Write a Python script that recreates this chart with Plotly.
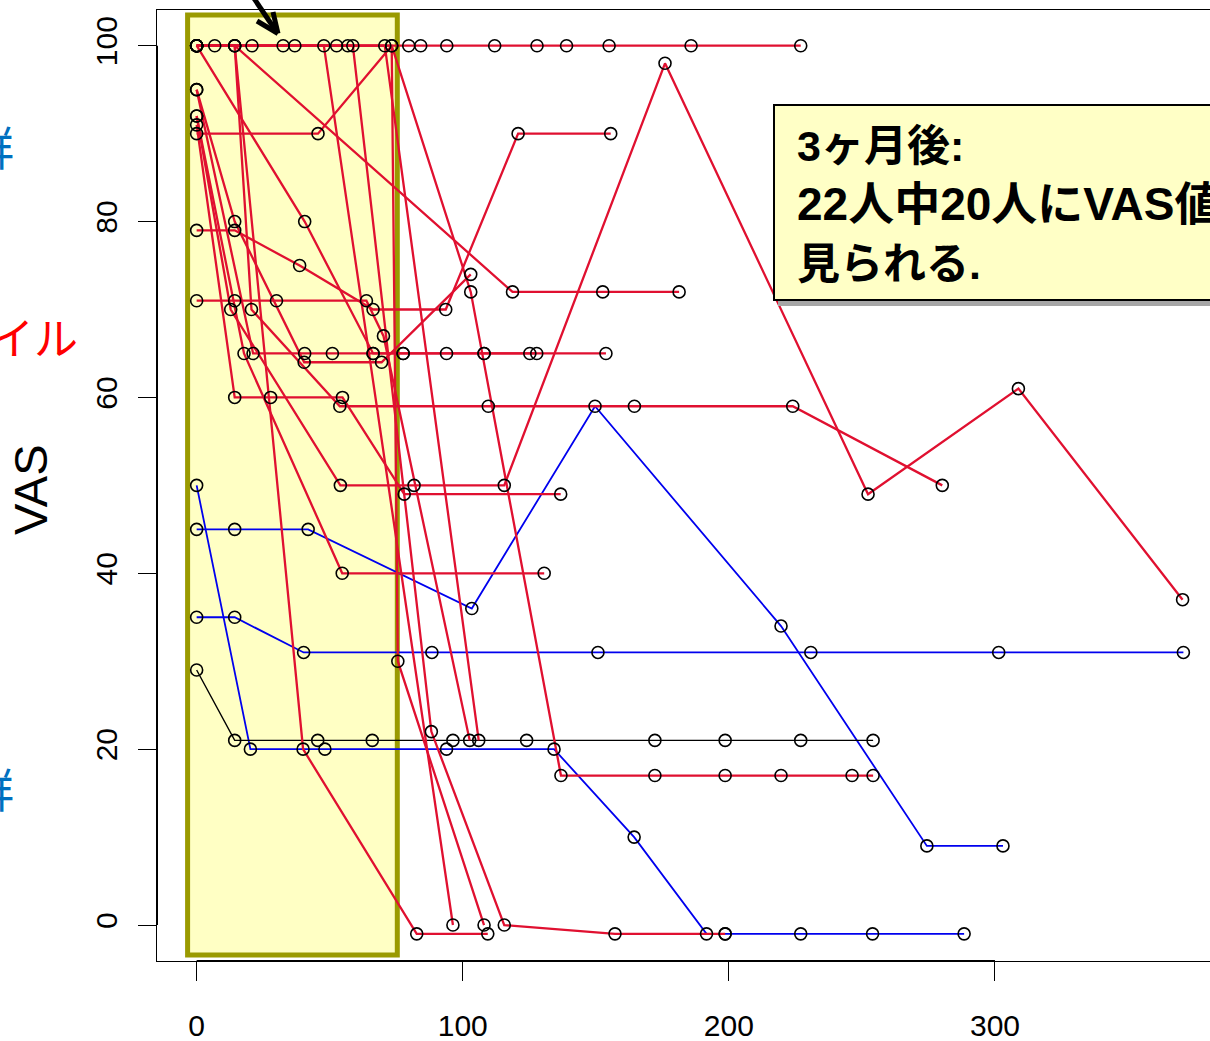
import plotly.graph_objects as go

# ---------------- data (days, VAS) ----------------
red_days = [
    [0, 6.8, 20.8, 32.5, 36.9, 52.6, 56.8, 79.7, 84.2, 94, 112, 127.9, 139, 155, 185.8, 227],
    [0, 14.3, 40, 82.7, 109.4],
    [0, 47.8, 96.3],
    [0, 45.6, 73.3, 75.6, 108],
    [0, 14.3, 118.7, 152.6, 181.3],
    [0, 14.3, 38.7, 66.3, 93.6, 120.8, 155.6],
    [0, 58.7, 88.2, 115.6, 157.2, 198.6],
    [0, 70.7, 106],
    [0, 73.3, 103, 136.9, 172.2, 198.6, 219.6, 246.3, 254.2],
    [0, 14.3, 40.4, 69.5, 103],
    [0, 14.3, 27.8, 54.8, 78, 136.8],
    [0, 14.3, 20.6, 53.8, 109.6, 164.5, 224, 280.2],
    [0, 12.8, 54, 81.7, 115.6, 176, 252.3, 308.8, 370.5],
    [0, 21.2, 40.6, 51, 66.3, 77.6, 93.9, 108, 125.2, 153.8],
    [0, 14.3, 30, 63.8, 70.2, 102.6],
    [0, 17.8, 54.7, 130.6],
    [0, 40.6, 66.3, 77.6, 108, 127.8],
]
red_vas = [
    [100] * 16,
    [100, 100, 20, -1, -1],
    [100, 100, 0],
    [90, 90, 100, 30, 0],
    [100, 100, 72, 72, 72],
    [79, 79, 75, 70, 70, 90, 90],
    [100, 100, 22, 0, -1, -1],
    [100, 100, 21],
    [100, 100, 72, 17, 17, 17, 17, 17, 17],
    [95, 80, 64, 64, 74],
    [91, 60, 60, 60, 49, 49],
    [100, 100, 70, 59, 59, 59, 59, 50],
    [92, 70, 50, 50, 50, 98, 49, 61, 37],
    [95, 65, 65, 65, 65, 65, 65, 65, 65, 65],
    [71, 71, 71, 71, 67, 21],
    [92, 65, 40, 40],
    [100, 80, 65, 65, 65, 65],
]
blue_days = [
    [0, 20.2, 48.2, 93.9, 134.3, 164.4, 191.6, 198.6, 227, 254, 288.4],
    [0, 14.3, 41.9, 103.4, 149.7, 219.6, 274.4, 303],
    [0, 14.3, 40.2, 88.4, 150.8, 230.8, 301.4, 370.8],
]
blue_vas = [
    [50, 20, 20, 20, 20, 10, -1, -1, -1, -1, -1],
    [45, 45, 45, 36, 59, 34, 9, 9],
    [35, 35, 31, 31, 31, 31, 31, 31],
]
black_days = [0, 14.3, 45.5, 66, 96.3, 124, 172.2, 198.6, 227, 254.2]
black_vas = [29, 21, 21, 21, 21, 21, 21, 21, 21, 21]

x_ticks = [0, 100, 200, 300]
y_ticks = [0, 20, 40, 60, 80, 100]
x_range = [-14.9, 380.8]
y_range = [-4.09, 104.06]
window_days = [-3.4, 75.4]      # yellow highlighted window
window_vas = [-3.4, 103.5]

# ---------------- figure ----------------
W, H = 1210, 1041
ML, MR, MT, MB = 157, 0, 10, 80
PW, PH = W - ML - MR, H - MT - MB


def px(xp):
    return (xp - ML) / PW


def py(yp):
    return (H - MB - yp) / PH


fig = go.Figure()

for d, v in zip(blue_days, blue_vas):
    fig.add_trace(go.Scatter(x=d, y=v, mode="lines",
                             line=dict(color="#0000EE", width=1.8)))
fig.add_trace(go.Scatter(x=black_days, y=black_vas, mode="lines",
                         line=dict(color="black", width=1.4)))
for d, v in zip(red_days, red_vas):
    fig.add_trace(go.Scatter(x=d, y=v, mode="lines",
                             line=dict(color="#E01030", width=2.3)))

all_x, all_y = [], []
for d, v in zip(red_days + blue_days + [black_days], red_vas + blue_vas + [black_vas]):
    all_x += d
    all_y += v
fig.add_trace(go.Scatter(x=all_x, y=all_y, mode="markers",
                         marker=dict(symbol="circle-open", size=12, color="black",
                                     line=dict(width=1.6, color="black"))))

shapes = [
    # yellow window
    dict(type="rect", xref="x", yref="y", x0=window_days[0], x1=window_days[1],
         y0=window_vas[0], y1=window_vas[1], fillcolor="#FFFFC4",
         line=dict(color="#9A9A00", width=5), layer="below"),
    # axis segments between first and last ticks
    dict(type="line", xref="x", yref="paper", x0=x_ticks[0], x1=x_ticks[-1], y0=0, y1=0,
         line=dict(color="black", width=2)),
    dict(type="line", xref="paper", yref="y", x0=0, x1=0, y0=y_ticks[0], y1=y_ticks[-1],
         line=dict(color="black", width=2)),
    # note box shadow + box
    dict(type="rect", xref="paper", yref="paper", x0=px(778), x1=px(1230), y0=py(306), y1=py(110),
         fillcolor="#A6A6A6", line=dict(width=0), layer="above"),
    dict(type="rect", xref="paper", yref="paper", x0=px(774), x1=px(1225), y0=py(300), y1=py(105),
         fillcolor="#FFFFC6", line=dict(color="black", width=2), layer="above"),
    # arrow at top
    dict(type="line", xref="paper", yref="paper", x0=px(251), y0=py(-6), x1=px(276), y1=py(31),
         line=dict(color="black", width=5)),
    dict(type="line", xref="paper", yref="paper", x0=px(257), y0=py(21), x1=px(278), y1=py(33.5),
         line=dict(color="black", width=5)),
    dict(type="line", xref="paper", yref="paper", x0=px(273), y0=py(12), x1=px(278), y1=py(33.5),
         line=dict(color="black", width=5)),
]

jp = "Liberation Sans, Noto Sans CJK JP"
ann = [
    dict(text="VAS", x=px(30), y=py(490), textangle=-90,
         font=dict(family="Liberation Sans, Arial", size=47, color="black")),
    dict(text="群", x=px(16), y=py(149), xanchor="right",
         font=dict(family=jp, size=46, color="#0070C0")),
    dict(text="群", x=px(16), y=py(791), xanchor="right",
         font=dict(family=jp, size=46, color="#0070C0")),
    dict(text="ファイル", x=px(80), y=py(340), xanchor="right",
         font=dict(family=jp, size=44, color="#FF0000")),
    dict(text="<b>3ヶ月後:</b>", x=px(795), y=py(146), xanchor="left",
         font=dict(family=jp, size=43, color="black")),
    dict(text="<b>22人中20人にVAS値の改善が</b>", x=px(795), y=py(204), xanchor="left",
         font=dict(family=jp, size=46, color="black")),
    dict(text="<b>見られる.</b>", x=px(795), y=py(264), xanchor="left",
         font=dict(family=jp, size=43, color="black")),
]
for a in ann:
    a.update(xref="paper", yref="paper", showarrow=False, yanchor="middle")
    a.setdefault("xanchor", "center")

fig.update_layout(
    width=W, height=H,
    margin=dict(l=ML, r=MR, t=MT, b=MB, pad=0),
    paper_bgcolor="white", plot_bgcolor="white",
    showlegend=False, hovermode=False,
    shapes=shapes, annotations=ann,
    font=dict(family="Liberation Sans, Arial", color="black"),
)
fig.update_xaxes(range=x_range, tickvals=x_ticks, ticktext=[str(t) for t in x_ticks],
                 ticks="outside", ticklen=19, tickwidth=1.3, tickcolor="black",
                 showline=True, linecolor="black", linewidth=1.2, mirror=True,
                 showgrid=False, zeroline=False, tickfont=dict(size=30),
                 ticklabelstandoff=19)
fig.update_yaxes(range=y_range, tickvals=y_ticks, ticktext=[str(t) for t in y_ticks],
                 ticks="outside", ticklen=18, tickwidth=1.3, tickcolor="black",
                 showline=True, linecolor="black", linewidth=1.2, mirror=False,
                 showgrid=False, zeroline=False, tickfont=dict(size=30),
                 tickangle=-90, ticklabelstandoff=9)

fig.write_html("out.html", config={"displayModeBar": False},
               post_script="document.body.style.margin='0';document.body.style.overflow='hidden';")
